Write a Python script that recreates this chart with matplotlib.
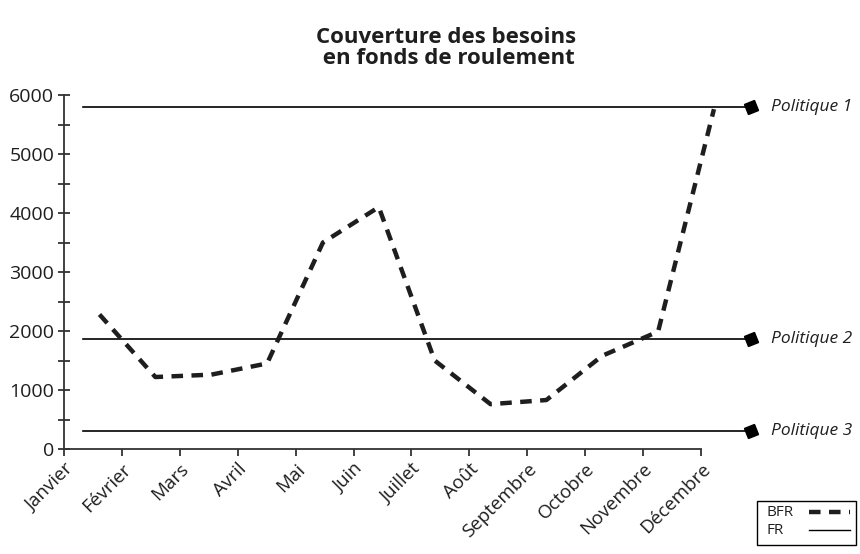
import numpy as np
import matplotlib
matplotlib.use("Agg")
import matplotlib.pyplot as plt
from matplotlib.lines import Line2D
from matplotlib.patches import Rectangle
from matplotlib.markers import MarkerStyle
from matplotlib.transforms import Affine2D, blended_transform_factory

# ---- data ----
months = ["Janvier", "Février", "Mars", "Avril", "Mai", "Juin", "Juillet",
          "Août", "Septembre", "Octobre", "Novembre", "Décembre"]
bfr = [2280, 1220, 1260, 1450, 3500, 4100, 1500, 760, 830, 1580, 1990, 5760]
fr_levels = [5800, 1870, 300]
fr_labels = ["Politique 1", "Politique 2", "Politique 3"]
legend_labels = ["BFR", "FR"]
title = "Couverture des besoins\n en fonds de roulement"

plt.rcParams['font.family'] = ['Open Sans', 'DejaVu Sans']
ink = "#1e1e1e"
W, H = 860, 554

fig = plt.figure(figsize=(8.6, 5.54), dpi=100)
ax = fig.add_axes([64/W, 1-449/H, (701-64)/W, (449-95)/H])

ax.set_xlim(0, len(months) - 1)
ax.set_ylim(0, 6000)
for s in ["top", "right"]:
    ax.spines[s].set_visible(False)
for s in ["left", "bottom"]:
    ax.spines[s].set_color("#333333")
    ax.spines[s].set_linewidth(1.3)

ax.set_xticks(range(len(months)))
ax.set_xticklabels(months, rotation=45, ha="right", va="top",
                   rotation_mode="anchor", fontsize=13.5, color=ink)
ax.tick_params(axis="x", direction="out", length=5, width=1.3, color="#333333", pad=3)
ax.set_yticks(np.arange(0, 6001, 1000))
ax.set_yticks(np.arange(500, 6000, 1000), minor=True)
ax.tick_params(axis="y", which="both", direction="inout", length=8, width=1.3,
               color="#333333", labelsize=14, labelcolor=ink, pad=3)

# secondary axis for the data series positions
ax2 = ax.twiny()
ax2.set_xlim(-0.6355, 10.768)
ax2.set_ylim(0, 6000)
ax2.axis("off")

dash = (0, (2.6, 1.9))
ax2.plot(range(len(bfr)), bfr, color=ink, lw=3.2, ls=dash,
         dash_capstyle="butt", solid_joinstyle="round", clip_on=False)

# FR policy lines
trans = blended_transform_factory(ax.transAxes, ax.transData)
diamond = MarkerStyle("s", transform=Affine2D().rotate_deg(22))
for lvl, lab in zip(fr_levels, fr_labels):
    ax.plot([(83-64)/637, (751-64)/637], [lvl, lvl], color="black", lw=1.2,
            transform=trans, clip_on=False)
    ax.plot([(751-64)/637], [lvl], marker=diamond, ms=8, color="black",
            transform=trans, clip_on=False, ls="none")
    ax.text((771-64)/637, lvl, lab, transform=trans, style="italic",
            fontsize=12.5, color=ink, va="center", ha="left")

fig.text(446/W, 1-48/H, title, ha="center", va="center", fontsize=16,
         fontweight="bold", color=ink, linespacing=0.95)

# legend box (text left, sample right)
fig.add_artist(Rectangle((757/W, 1-545/H), (856-757)/W, (545-501)/H,
                         transform=fig.transFigure, fill=False,
                         edgecolor="black", lw=1.0))
rows_y = [512, 530]
styles = [dict(color=ink, lw=3.2, ls=dash, dash_capstyle="butt"),
          dict(color="black", lw=1.0)]
for lab, ry, st in zip(legend_labels, rows_y, styles):
    fig.text(766/W, 1-ry/H, lab, ha="left", va="center", fontsize=11, color=ink)
    fig.add_artist(Line2D([809/W, 850/W], [1-ry/H, 1-ry/H],
                          transform=fig.transFigure, **st))

fig.savefig("out.png", dpi=100)
